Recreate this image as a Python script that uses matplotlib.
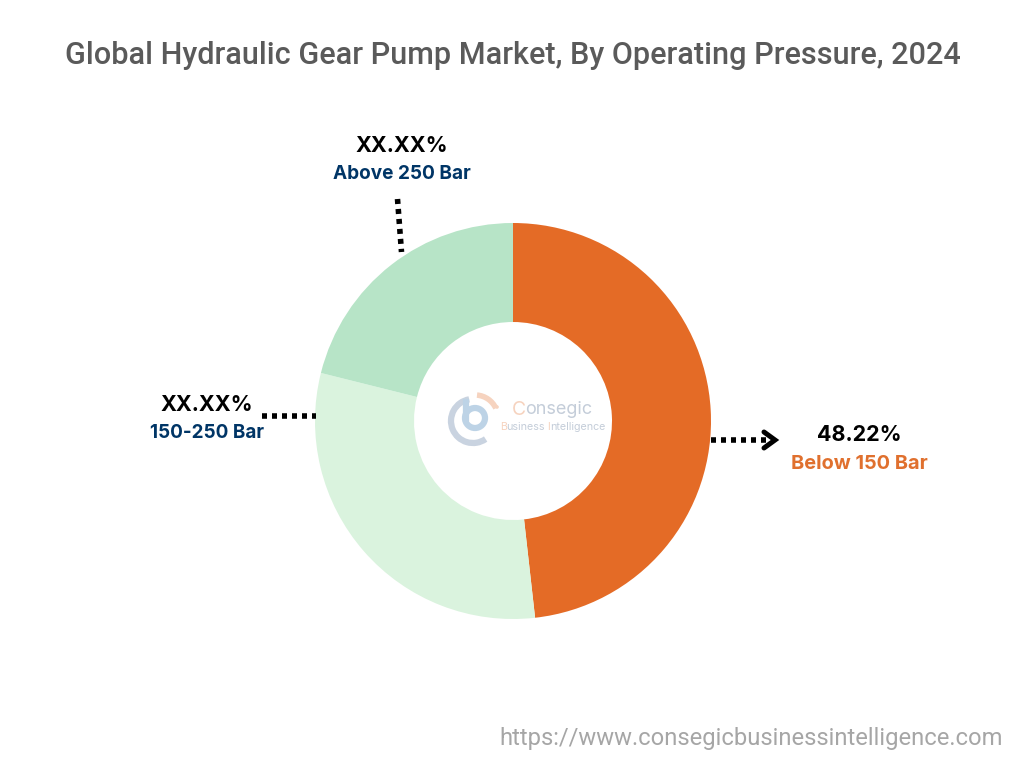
# -*- coding: utf-8 -*-

import matplotlib
matplotlib.use("Agg")
import matplotlib.pyplot as plt
from matplotlib.patches import Arc, Circle

title = "Global Hydraulic Gear Pump Market, By Operating Pressure, 2024"
segments = ["Below 150 Bar", "150-250 Bar", "Above 250 Bar"]
shares = [48.22, 30.68, 21.10]
share_labels = ["48.22%", "XX.XX%", "XX.XX%"]
colors = ["#E46B26", "#DAF3DE", "#B7E4C7"]
label_colors = ["#E0702E", "#003566", "#003566"]
source_url = "https://www.consegicbusinessintelligence.com"

fig = plt.figure(figsize=(10.24, 7.68), dpi=100)
ax = fig.add_axes([0, 0, 1, 1])
ax.set_xlim(0, 1024)
ax.set_ylim(0, 768)
ax.set_aspect("equal")
ax.axis("off")

ax.pie(
    shares,
    colors=colors,
    startangle=90,
    counterclock=False,
    center=(513, 347),
    radius=198,
    wedgeprops={"width": 99, "linewidth": 0},
    frame=False,
)
ax.set_xlim(0, 1024)
ax.set_ylim(0, 768)

ax.text(513, 713, title, ha="center", va="center", fontsize=22.1,
        family="Roboto", fontweight="medium", color="#5A5A5A")

# labels
label_pos = [(859, 333, 304, 14.4), (207, 363, 335, 13.6), (402, 622, 594, 13.7)]
for i, (x, y1, y2, size) in enumerate(label_pos):
    ax.text(x, y1, share_labels[i], ha="center", va="center", fontsize=15.5,
            family="Inter", fontweight="bold", color="black")
    ax.text(x, y2, segments[i], ha="center", va="center", fontsize=size,
            family="Inter", fontweight="bold", color=label_colors[i])

# dotted leaders
dots = (0, (0.9, 0.9))
ax.plot([711, 766], [328, 328], color="black", lw=4, ls=dots)
ax.plot([764, 775, 764], [336, 328, 320], color="black", lw=3.6,
        solid_capstyle="round", solid_joinstyle="miter")
ax.plot([262, 316], [352, 352], color="black", lw=4, ls=dots)
ax.plot([397.5, 401.5], [569, 516], color="black", lw=4, ls=dots)

# logo
ax.add_patch(Arc((473, 347), 44, 44, theta1=100, theta2=305, color="#C9D3E0", lw=4.5))
ax.add_patch(Circle((475, 350), 10, fill=False, ec="#BDD3E6", lw=4.5))
ax.plot([466, 466], [350, 366], color="#BDD3E6", lw=4.5)
ax.add_patch(Arc((475, 350), 46, 46, theta1=25, theta2=85, color="#F6D3BF", lw=4))
ax.add_patch(Circle((497, 361), 1.8, color="#F6D3BF", lw=0))
ax.text(512, 358, "C", ha="left", va="center", fontsize=14, family="Inter", color="#F6D3BF")
ax.text(525, 358, "onsegic", ha="left", va="center", fontsize=13, family="Inter", color="#C4CDD9")
ax.text(500, 341, "B", ha="left", va="center", fontsize=7.7, family="Inter", color="#F6D3BF")
ax.text(506, 341, "usiness", ha="left", va="center", fontsize=7.7, family="Inter", color="#C4CDD9")
ax.text(547.5, 341, "I", ha="left", va="center", fontsize=7.7, family="Inter", color="#F6D3BF")
ax.text(550, 341, "ntelligence", ha="left", va="center", fontsize=7.7, family="Inter", color="#C4CDD9")

ax.text(1003, 30, source_url, ha="right", va="center", fontsize=17.15,
        family="Roboto", color="#A6A6A6")

fig.savefig("out.png", dpi=100)
plt.close(fig)
